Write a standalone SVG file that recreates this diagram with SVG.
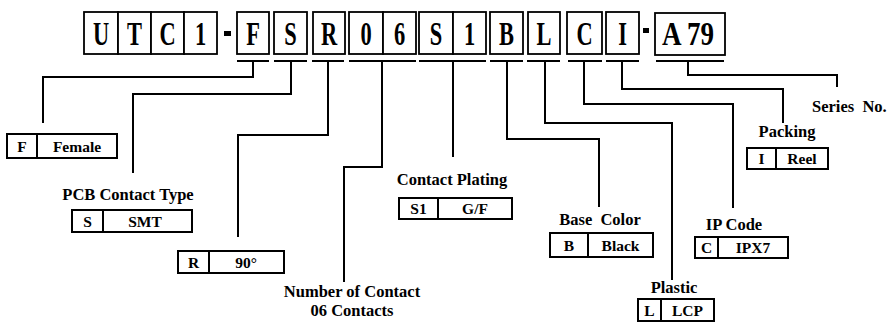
<svg xmlns="http://www.w3.org/2000/svg" width="888" height="326" viewBox="0 0 888 326">
<style>
.bg{fill:#fff}
.cell{fill:#fff;stroke:#000;stroke-width:1.8}
.ul{stroke:#000;stroke-width:2;fill:none}
.con{stroke:#000;stroke-width:2;fill:none}
.big{font-family:"Liberation Serif","Times New Roman",serif;font-weight:bold;font-size:33px;text-anchor:middle;fill:#000}
.lab{font-family:"Liberation Serif","Times New Roman",serif;font-weight:bold;font-size:16.5px;text-anchor:middle;fill:#000}
.bx{font-family:"Liberation Serif","Times New Roman",serif;font-weight:bold;font-size:15.5px;text-anchor:middle;fill:#000}
.box{fill:#fff;stroke:#000;stroke-width:2}
</style>
<rect class="bg" x="0" y="0" width="888" height="326"/>

<g id="code">
  <rect class="cell" x="84" y="12" width="34" height="42"/>
  <rect class="cell" x="118" y="12" width="33" height="42"/>
  <rect class="cell" x="151" y="12" width="33" height="42"/>
  <rect class="cell" x="184" y="12" width="33" height="42"/>
  <text class="big" transform="translate(101,45) scale(0.68,1)">U</text>
  <text class="big" transform="translate(134.5,45) scale(0.68,1)">T</text>
  <text class="big" transform="translate(167.5,45) scale(0.68,1)">C</text>
  <text class="big" transform="translate(200.5,45) scale(0.68,1)">1</text>
  <rect x="224" y="31" width="7" height="5" fill="#000"/>
  <rect class="cell" x="237" y="12" width="32" height="42"/>
  <rect class="cell" x="274" y="12" width="33" height="42"/>
  <rect class="cell" x="313" y="12" width="32" height="42"/>
  <rect class="cell" x="349" y="12" width="34" height="42"/>
  <rect class="cell" x="383" y="12" width="33" height="42"/>
  <rect class="cell" x="419" y="12" width="34" height="42"/>
  <rect class="cell" x="453" y="12" width="33" height="42"/>
  <rect class="cell" x="490" y="12" width="33" height="42"/>
  <rect class="cell" x="528" y="12" width="32" height="42"/>
  <rect class="cell" x="567" y="12" width="35" height="42"/>
  <rect class="cell" x="606" y="12" width="33" height="42"/>
  <text class="big" transform="translate(253,45) scale(0.68,1)">F</text>
  <text class="big" transform="translate(290.5,45) scale(0.68,1)">S</text>
  <text class="big" transform="translate(329,45) scale(0.68,1)">R</text>
  <text class="big" transform="translate(366,45) scale(0.68,1)">0</text>
  <text class="big" transform="translate(399.5,45) scale(0.68,1)">6</text>
  <text class="big" transform="translate(436,45) scale(0.68,1)">S</text>
  <text class="big" transform="translate(469.5,45) scale(0.68,1)">1</text>
  <text class="big" transform="translate(506.5,45) scale(0.68,1)">B</text>
  <text class="big" transform="translate(544,45) scale(0.68,1)">L</text>
  <text class="big" transform="translate(584.5,45) scale(0.68,1)">C</text>
  <text class="big" transform="translate(622.5,45) scale(0.68,1)">I</text>
  <rect x="643" y="28" width="6" height="5" fill="#000"/>
  <rect class="cell" x="655" y="13" width="70" height="42"/>
  <text class="big" transform="translate(688,45) scale(0.82,1)">A 79</text>
</g>

<g id="connectors">
  <path class="ul" d="M237,61H269 M274,61H307 M312,61H344 M349,61H416 M419,61H486 M490,61H523 M527,61H560 M568,61H602 M606,61H639 M656,61H724"/>
  <path class="con" d="M253,61V77H43V123"/>
  <path class="con" d="M291,61V94H133V173"/>
  <path class="con" d="M328,61V135H238V237"/>
  <path class="con" d="M382,61V167H344V282"/>
  <path class="con" d="M453,61V157"/>
  <path class="con" d="M507,61V139H599V207"/>
  <path class="con" d="M545,61V123H672V280"/>
  <path class="con" d="M584,61V104H733V208"/>
  <path class="con" d="M622,61V89H783V123"/>
  <path class="con" d="M688,61V75H837V87"/>
</g>

<g id="gender">
  <rect class="box" x="7" y="134" width="110" height="24"/>
  <line class="con" x1="37" y1="134" x2="37" y2="158"/>
  <text class="bx" x="22" y="152">F</text>
  <text class="bx" x="77" y="152">Female</text>
</g>

<g id="pcb-contact-type">
  <text class="lab" x="128" y="200">PCB Contact Type</text>
  <rect class="box" x="72" y="210" width="120" height="22"/>
  <line class="con" x1="103" y1="210" x2="103" y2="232"/>
  <text class="bx" x="87.5" y="227">S</text>
  <text class="bx" x="145" y="227">SMT</text>
</g>

<g id="angle">
  <rect class="box" x="178" y="251" width="106" height="22"/>
  <line class="con" x1="209" y1="251" x2="209" y2="273"/>
  <text class="bx" x="193.5" y="268">R</text>
  <text class="bx" x="246" y="268">90°</text>
</g>

<g id="number-of-contact">
  <text class="lab" x="352" y="297">Number of Contact</text>
  <text class="lab" x="352" y="316">06 Contacts</text>
</g>

<g id="contact-plating">
  <text class="lab" x="452" y="185">Contact Plating</text>
  <rect class="box" x="399" y="198" width="113" height="21"/>
  <line class="con" x1="438" y1="198" x2="438" y2="219"/>
  <text class="bx" x="418.5" y="214">S1</text>
  <text class="bx" x="475" y="214">G/F</text>
</g>

<g id="base-color">
  <text class="lab" x="600" y="225" xml:space="preserve">Base  Color</text>
  <rect class="box" x="550" y="233" width="103" height="24"/>
  <line class="con" x1="588" y1="233" x2="588" y2="257"/>
  <text class="bx" x="569" y="251">B</text>
  <text class="bx" x="620.5" y="251">Black</text>
</g>

<g id="plastic">
  <text class="lab" x="674" y="293">Plastic</text>
  <rect class="box" x="638" y="299" width="76" height="22"/>
  <line class="con" x1="661" y1="299" x2="661" y2="321"/>
  <text class="bx" x="649.5" y="316">L</text>
  <text class="bx" x="687.5" y="316">LCP</text>
</g>

<g id="ip-code">
  <text class="lab" x="734" y="230">IP Code</text>
  <rect class="box" x="695" y="237" width="93" height="21"/>
  <line class="con" x1="718" y1="237" x2="718" y2="258"/>
  <text class="bx" x="706.5" y="253">C</text>
  <text class="bx" x="753" y="253">IPX7</text>
</g>

<g id="packing">
  <text class="lab" x="787" y="137">Packing</text>
  <rect class="box" x="747" y="148" width="81" height="21"/>
  <line class="con" x1="776" y1="148" x2="776" y2="169"/>
  <text class="bx" x="761.5" y="164">I</text>
  <text class="bx" x="802" y="164">Reel</text>
</g>

<g id="series-no">
  <text class="lab" x="812" y="112" style="text-anchor:start" xml:space="preserve">Series  No.</text>
</g>
</svg>
